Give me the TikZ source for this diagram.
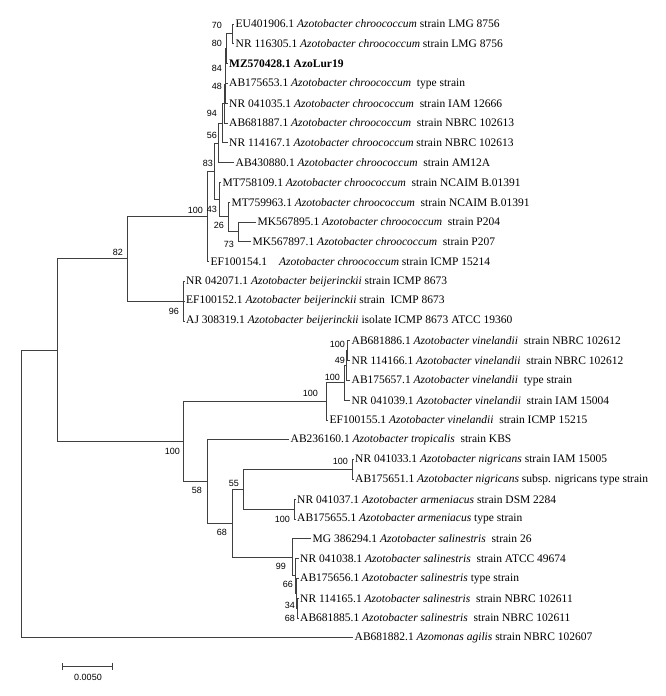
\documentclass[tikz,border=0pt]{standalone}
\usepackage{fontspec}
\setmainfont{Liberation Serif}
\newfontfamily\bootfont{Liberation Sans}
\usetikzlibrary{arrows.meta}

\begin{document}
\begin{tikzpicture}[x=1pt, y=-1pt,
  branch/.style={draw=black!75, line width=0.9pt},
  leaf/.style={anchor=west, inner sep=1.5pt, font=\fontsize{11.5}{13}\selectfont},
  boot/.style={anchor=east, inner sep=0pt, font=\bootfont\fontsize{9}{10}\selectfont}]

\useasboundingbox (0,0) rectangle (665,696);

\node[leaf] (l1) at (234,24.0) {EU401906.1 \textit{Azotobacter chroococcum} strain LMG 8756};
\node[leaf] (l2) at (234,43.8) {NR 116305.1 \textit{Azotobacter chroococcum} strain LMG 8756};
\node[leaf] (l3) at (227.5,63.6) {\textbf{MZ570428.1 AzoLur19}};
\node[leaf] (l4) at (227.5,83.4) {AB175653.1 \textit{Azotobacter chroococcum}~ type strain};
\node[leaf] (l5) at (227.5,103.2) {NR 041035.1 \textit{Azotobacter chroococcum}~ strain IAM 12666};
\node[leaf] (l6) at (227.5,123.0) {AB681887.1 \textit{Azotobacter chroococcum}~ strain NBRC 102613};
\node[leaf] (l7) at (227.5,142.8) {NR 114167.1 \textit{Azotobacter chroococcum} strain NBRC 102613};
\node[leaf] (l8) at (234,162.6) {AB430880.1 \textit{Azotobacter chroococcum}~ strain AM12A};
\node[leaf] (l9) at (221,182.4) {MT758109.1 \textit{Azotobacter chroococcum}~ strain NCAIM B.01391};
\node[leaf] (l10) at (230,202.2) {MT759963.1 \textit{Azotobacter chroococcum}~ strain NCAIM B.01391};
\node[leaf] (l11) at (256,222.0) {MK567895.1 \textit{Azotobacter chroococcum}~ strain P204};
\node[leaf] (l12) at (251,241.8) {MK567897.1 \textit{Azotobacter chroococcum}~ strain P207};
\node[leaf] (l13) at (209,261.6) {EF100154.1\hspace{9pt} \textit{Azotobacter chroococcum} strain ICMP 15214};
\node[leaf] (l14) at (184.5,281.4) {NR 042071.1 \textit{Azotobacter beijerinckii} strain ICMP 8673};
\node[leaf] (l15) at (184.5,301.2) {EF100152.1 \textit{Azotobacter beijerinckii} strain~ ICMP 8673};
\node[leaf] (l16) at (184.5,321.0) {AJ 308319.1 \textit{Azotobacter beijerinckii} isolate ICMP 8673 ATCC 19360};
\node[leaf] (l17) at (350,340.8) {AB681886.1 \textit{Azotobacter vinelandii}~ strain NBRC 102612};
\node[leaf] (l18) at (350,360.6) {NR 114166.1 \textit{Azotobacter vinelandii}~ strain NBRC 102612};
\node[leaf] (l19) at (350,380.4) {AB175657.1 \textit{Azotobacter vinelandii}~ type strain};
\node[leaf] (l20) at (350,400.2) {NR 041039.1 \textit{Azotobacter vinelandii}~ strain IAM 15004};
\node[leaf] (l21) at (328,420.0) {EF100155.1 \textit{Azotobacter vinelandii}~ strain ICMP 15215};
\node[leaf] (l22) at (289,439.8) {AB236160.1 \textit{Azotobacter tropicalis}~ strain KBS};
\node[leaf] (l23) at (353.5,459.6) {NR 041033.1 \textit{Azotobacter nigricans} strain IAM 15005};
\node[leaf] (l24) at (353.5,479.4) {AB175651.1 \textit{Azotobacter nigricans} subsp. nigricans type strain};
\node[leaf] (l25) at (295.5,499.2) {NR 041037.1 \textit{Azotobacter armeniacus} strain DSM 2284};
\node[leaf] (l26) at (295.5,519.0) {AB175655.1 \textit{Azotobacter armeniacus} type strain};
\node[leaf] (l27) at (311,538.8) {MG 386294.1 \textit{Azotobacter salinestris}~ strain 26};
\node[leaf] (l28) at (298.5,558.6) {NR 041038.1 \textit{Azotobacter salinestris}~ strain ATCC 49674};
\node[leaf] (l29) at (298.5,578.4) {AB175656.1 \textit{Azotobacter salinestris} type strain};
\node[leaf] (l30) at (298.5,598.2) {NR 114165.1 \textit{Azotobacter salinestris}~ strain NBRC 102611};
\node[leaf] (l31) at (298.5,618.0) {AB681885.1 \textit{Azotobacter salinestris}~ strain NBRC 102611};
\node[leaf] (l32) at (353,637.8) {AB681882.1 \textit{Azomonas agilis} strain NBRC 102607};

\coordinate (root) at (21,494);
\coordinate (azoto) at (57,350.25);
\coordinate (upper) at (127,258.9);
\coordinate (chroo) at (207,216.5);
\coordinate (chrooA) at (214,171.35);
\coordinate (n56) at (218,143);
\coordinate (n94) at (222,123.3);
\coordinate (n48) at (224.5,103.85);
\coordinate (n84) at (225,84.7);
\coordinate (n80) at (225.5,66.2);
\coordinate (n70b) at (226,48.75);
\coordinate (n70) at (232,33.9);
\coordinate (n43) at (219,199.7);
\coordinate (n26) at (228,216.9);
\coordinate (n73) at (238,231.9);
\coordinate (beij) at (183,301.2);
\coordinate (lower) at (183,441.5);
\coordinate (vine) at (326,401.45);
\coordinate (vine1) at (344,382.9);
\coordinate (vine2) at (346,365.55);
\coordinate (vine3) at (347,350.7);
\coordinate (n58) at (207,481.55);
\coordinate (n68) at (232,523.3);
\coordinate (n55) at (243,489.3);
\coordinate (nigri) at (352,469.5);
\coordinate (armen) at (294,509.1);
\coordinate (salin) at (292,557.35);
\coordinate (salin2) at (295,575.9);
\coordinate (salin3) at (296.5,593.25);
\coordinate (salin4) at (297.5,608.1);

\draw[branch] (root) |- (azoto);
\draw[branch] (root) |- (l32.west);
\draw[branch] (azoto) |- (upper);
\draw[branch] (azoto) |- (lower);

\draw[branch] (upper) |- (chroo);
\draw[branch] (upper) |- (beij);
\draw[branch] (chroo) |- (chrooA);
\draw[branch] (chroo) |- (l13.west);
\draw[branch] (chrooA) |- (n56);
\draw[branch] (chrooA) |- (n43);
\draw[branch] (n56) |- (n94);
\draw[branch] (n56) |- (l8.west);
\draw[branch] (n94) |- (n48);
\draw[branch] (n94) |- (l7.west);
\draw[branch] (n48) |- (n84);
\draw[branch] (n48) |- (l6.west);
\draw[branch] (n84) |- (n80);
\draw[branch] (n84) |- (l5.west);
\draw[branch] (n80) |- (n70b);
\draw[branch] (n80) |- (l4.west);
\draw[branch] (n70b) |- (n70);
\draw[branch] (n70b) |- (l3.west);
\draw[branch] (n70) |- (l1.west);
\draw[branch] (n70) |- (l2.west);
\draw[branch] (n43) |- (l9.west);
\draw[branch] (n43) |- (n26);
\draw[branch] (n26) |- (l10.west);
\draw[branch] (n26) |- (n73);
\draw[branch] (n73) |- (l11.west);
\draw[branch] (n73) |- (l12.west);
\draw[branch] (beij) |- (l14.west);
\draw[branch] (beij) |- (l15.west);
\draw[branch] (beij) |- (l16.west);

\draw[branch] (lower) |- (vine);
\draw[branch] (lower) |- (n58);
\draw[branch] (vine) |- (vine1);
\draw[branch] (vine) |- (l21.west);
\draw[branch] (vine1) |- (vine2);
\draw[branch] (vine1) |- (l20.west);
\draw[branch] (vine2) |- (vine3);
\draw[branch] (vine2) |- (l19.west);
\draw[branch] (vine3) |- (l17.west);
\draw[branch] (vine3) |- (l18.west);
\draw[branch] (n58) |- (l22.west);
\draw[branch] (n58) |- (n68);
\draw[branch] (n68) |- (n55);
\draw[branch] (n68) |- (salin);
\draw[branch] (n55) |- (nigri);
\draw[branch] (n55) |- (armen);
\draw[branch] (nigri) |- (l23.west);
\draw[branch] (nigri) |- (l24.west);
\draw[branch] (armen) |- (l25.west);
\draw[branch] (armen) |- (l26.west);
\draw[branch] (salin) |- (l27.west);
\draw[branch] (salin) |- (salin2);
\draw[branch] (salin2) |- (l28.west);
\draw[branch] (salin2) |- (salin3);
\draw[branch] (salin3) |- (l29.west);
\draw[branch] (salin3) |- (salin4);
\draw[branch] (salin4) |- (l30.west);
\draw[branch] (salin4) |- (l31.west);

% bootstrap values
\node[boot] (b70) at (222,25) {70};
\node[boot] (b80) at (222,43) {80};
\node[boot] (b84) at (222,68) {84};
\node[boot] (b48) at (222,86) {48};
\node[boot] (b94) at (217,113) {94};
\node[boot] (b56) at (217,135) {56};
\node[boot] (b83) at (213,163) {83};
\node[boot] (b100c) at (203,210) {100};
\node[boot] (b43) at (217,209) {43};
\node[boot] (b26) at (224,225) {26};
\node[boot] (b73) at (234,244) {73};
\node[boot] (b82) at (123,252) {82};
\node[boot] (b96) at (179,311) {96};
\node[boot] (b100v3) at (345,344) {100};
\node[boot] (b49) at (345,360) {49};
\node[boot] (b100v1) at (340,377) {100};
\node[boot] (b100v) at (318,393) {100};
\node[boot] (b100l) at (180,451) {100};
\node[boot] (b58) at (202,490) {58};
\node[boot] (b55) at (239,483) {55};
\node[boot] (b100n) at (348,461) {100};
\node[boot] (b100a) at (290,519) {100};
\node[boot] (b68) at (227,532) {68};
\node[boot] (b99) at (286,566) {99};
\node[boot] (b66) at (293,584) {66};
\node[boot] (b34) at (295,605) {34};
\node[boot] (b68s) at (295,618) {68};

% scale bar
\coordinate (bar0) at (62,666);
\coordinate (bar1) at (113,666);
\draw[branch, {Bar[width=7pt]}-{Bar[width=7pt]}] (bar0) -- (bar1);
\node[boot, anchor=center] (barlabel) at (88,677) {0.0050};

\end{tikzpicture}
\end{document}
